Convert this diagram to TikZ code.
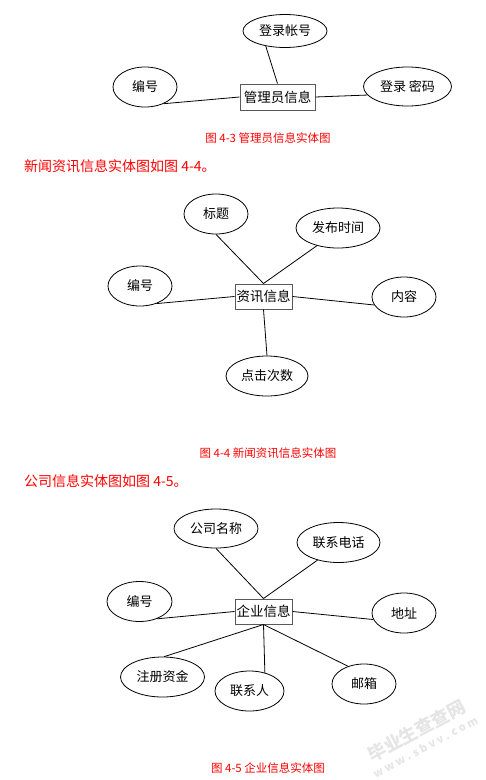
\documentclass[tikz,border=0pt]{standalone}
\usepackage{fontspec}
\setmainfont{Noto Sans CJK SC}
\usetikzlibrary{shapes.geometric}
\definecolor{capred}{RGB}{255,0,0}
\tikzset{
  attr/.style={ellipse,draw=black,line width=0.8pt,inner sep=0pt,font=\fontsize{13}{13}\selectfont},
  ent/.style={rectangle,draw=black!65,line width=1pt,inner sep=0pt,font=\fontsize{13.5}{13.5}\selectfont},
  link/.style={draw=black,line width=0.8pt},
  figcap/.style={text=capred,font=\fontsize{11.5}{11.5}\selectfont,inner sep=0pt},
  para/.style={text=capred,font=\fontsize{14}{14}\selectfont,inner sep=0pt,anchor=west},
  wm/.style={text=black!10,font=\bfseries\fontsize{18}{18}\selectfont,rotate=28,inner sep=0pt,align=center}
}
\begin{document}
\begin{tikzpicture}[x=1pt,y=-1pt]
\useasboundingbox (0,0) rectangle (486,780);
% ---------- Figure 4-3 ----------
\node[ent,minimum width=75pt,minimum height=26pt] (m) at (277.5,97) {管理员信息};
\node[attr,minimum width=84pt,minimum height=33pt] (m1) at (285,31) {登录帐号};
\node[attr,minimum width=64pt,minimum height=40pt] (m2) at (145,87) {编号};
\node[attr,minimum width=88pt,minimum height=39pt] (m3) at (407.5,86.5) {登录 密码};
\draw[link] (m1.-142) -- (m.north);
\draw[link] (m2.-42) -- (m.west);
\draw[link] (m.east) -- (m3.-168);
\node[figcap] (c1) at (268,138) {图 4-3 管理员信息实体图};
% ---------- paragraph ----------
\node[para] (p1) at (24,166) {新闻资讯信息实体图如图 4-4。};
% ---------- Figure 4-4 ----------
\node[ent,minimum width=57pt,minimum height=25pt] (n) at (263.5,296.5) {资讯信息};
\node[attr,minimum width=64pt,minimum height=40pt] (n1) at (216,214) {标题};
\node[attr,minimum width=84pt,minimum height=40pt] (n2) at (338,228) {发布时间};
\node[attr,minimum width=64pt,minimum height=40pt] (n3) at (140,286) {编号};
\node[attr,minimum width=64pt,minimum height=40pt] (n4) at (404,297) {内容};
\node[attr,minimum width=82pt,minimum height=40pt] (n5) at (267,376) {点击次数};
\draw[link] (n1.south) -- (n.north);
\draw[link] (n2.-140) -- (n.north);
\draw[link] (n3.-47) -- (n.west);
\draw[link] (n.east) -- (n4.-165);
\draw[link] (n.south) -- (n5.north);
\node[figcap] (c2) at (268,453) {图 4-4 新闻资讯信息实体图};
% ---------- paragraph ----------
\node[para] (p2) at (24,481) {公司信息实体图如图 4-5。};
% ---------- Figure 4-5 ----------
\node[ent,minimum width=57pt,minimum height=25pt] (q) at (263.5,611.5) {企业信息};
\node[attr,minimum width=84pt,minimum height=39pt] (q1) at (216,528.5) {公司名称};
\node[attr,minimum width=83pt,minimum height=40pt] (q2) at (338.5,542.5) {联系电话};
\node[attr,minimum width=65pt,minimum height=40pt] (q3) at (139.5,601.5) {编号};
\node[attr,minimum width=64pt,minimum height=40pt] (q4) at (404,613) {地址};
\node[attr,minimum width=84pt,minimum height=40pt] (q5) at (162.5,677) {注册资金};
\node[attr,minimum width=69pt,minimum height=40pt] (q6) at (249.5,691) {联系人};
\node[attr,minimum width=64pt,minimum height=40pt] (q7) at (364,684) {邮箱};
\draw[link] (q1.south) -- (q.north);
\draw[link] (q2.-140) -- (q.north);
\draw[link] (q3.-45) -- (q.west);
\draw[link] (q.east) -- (q4.-168);
\draw[link] (q.south) -- (q5.85);
\draw[link] (q.south) -- (q6.50);
\draw[link] (q.south) -- (q7.132);
\node[figcap] (c3) at (268,768) {图 4-5 企业信息实体图};
% ---------- watermark ----------
\node[wm] (w1) at (420,737) {毕业生查查网\\[-2pt]{\fontsize{11}{11}\selectfont w w w . s b v v . c o m}};
\end{tikzpicture}
\end{document}
